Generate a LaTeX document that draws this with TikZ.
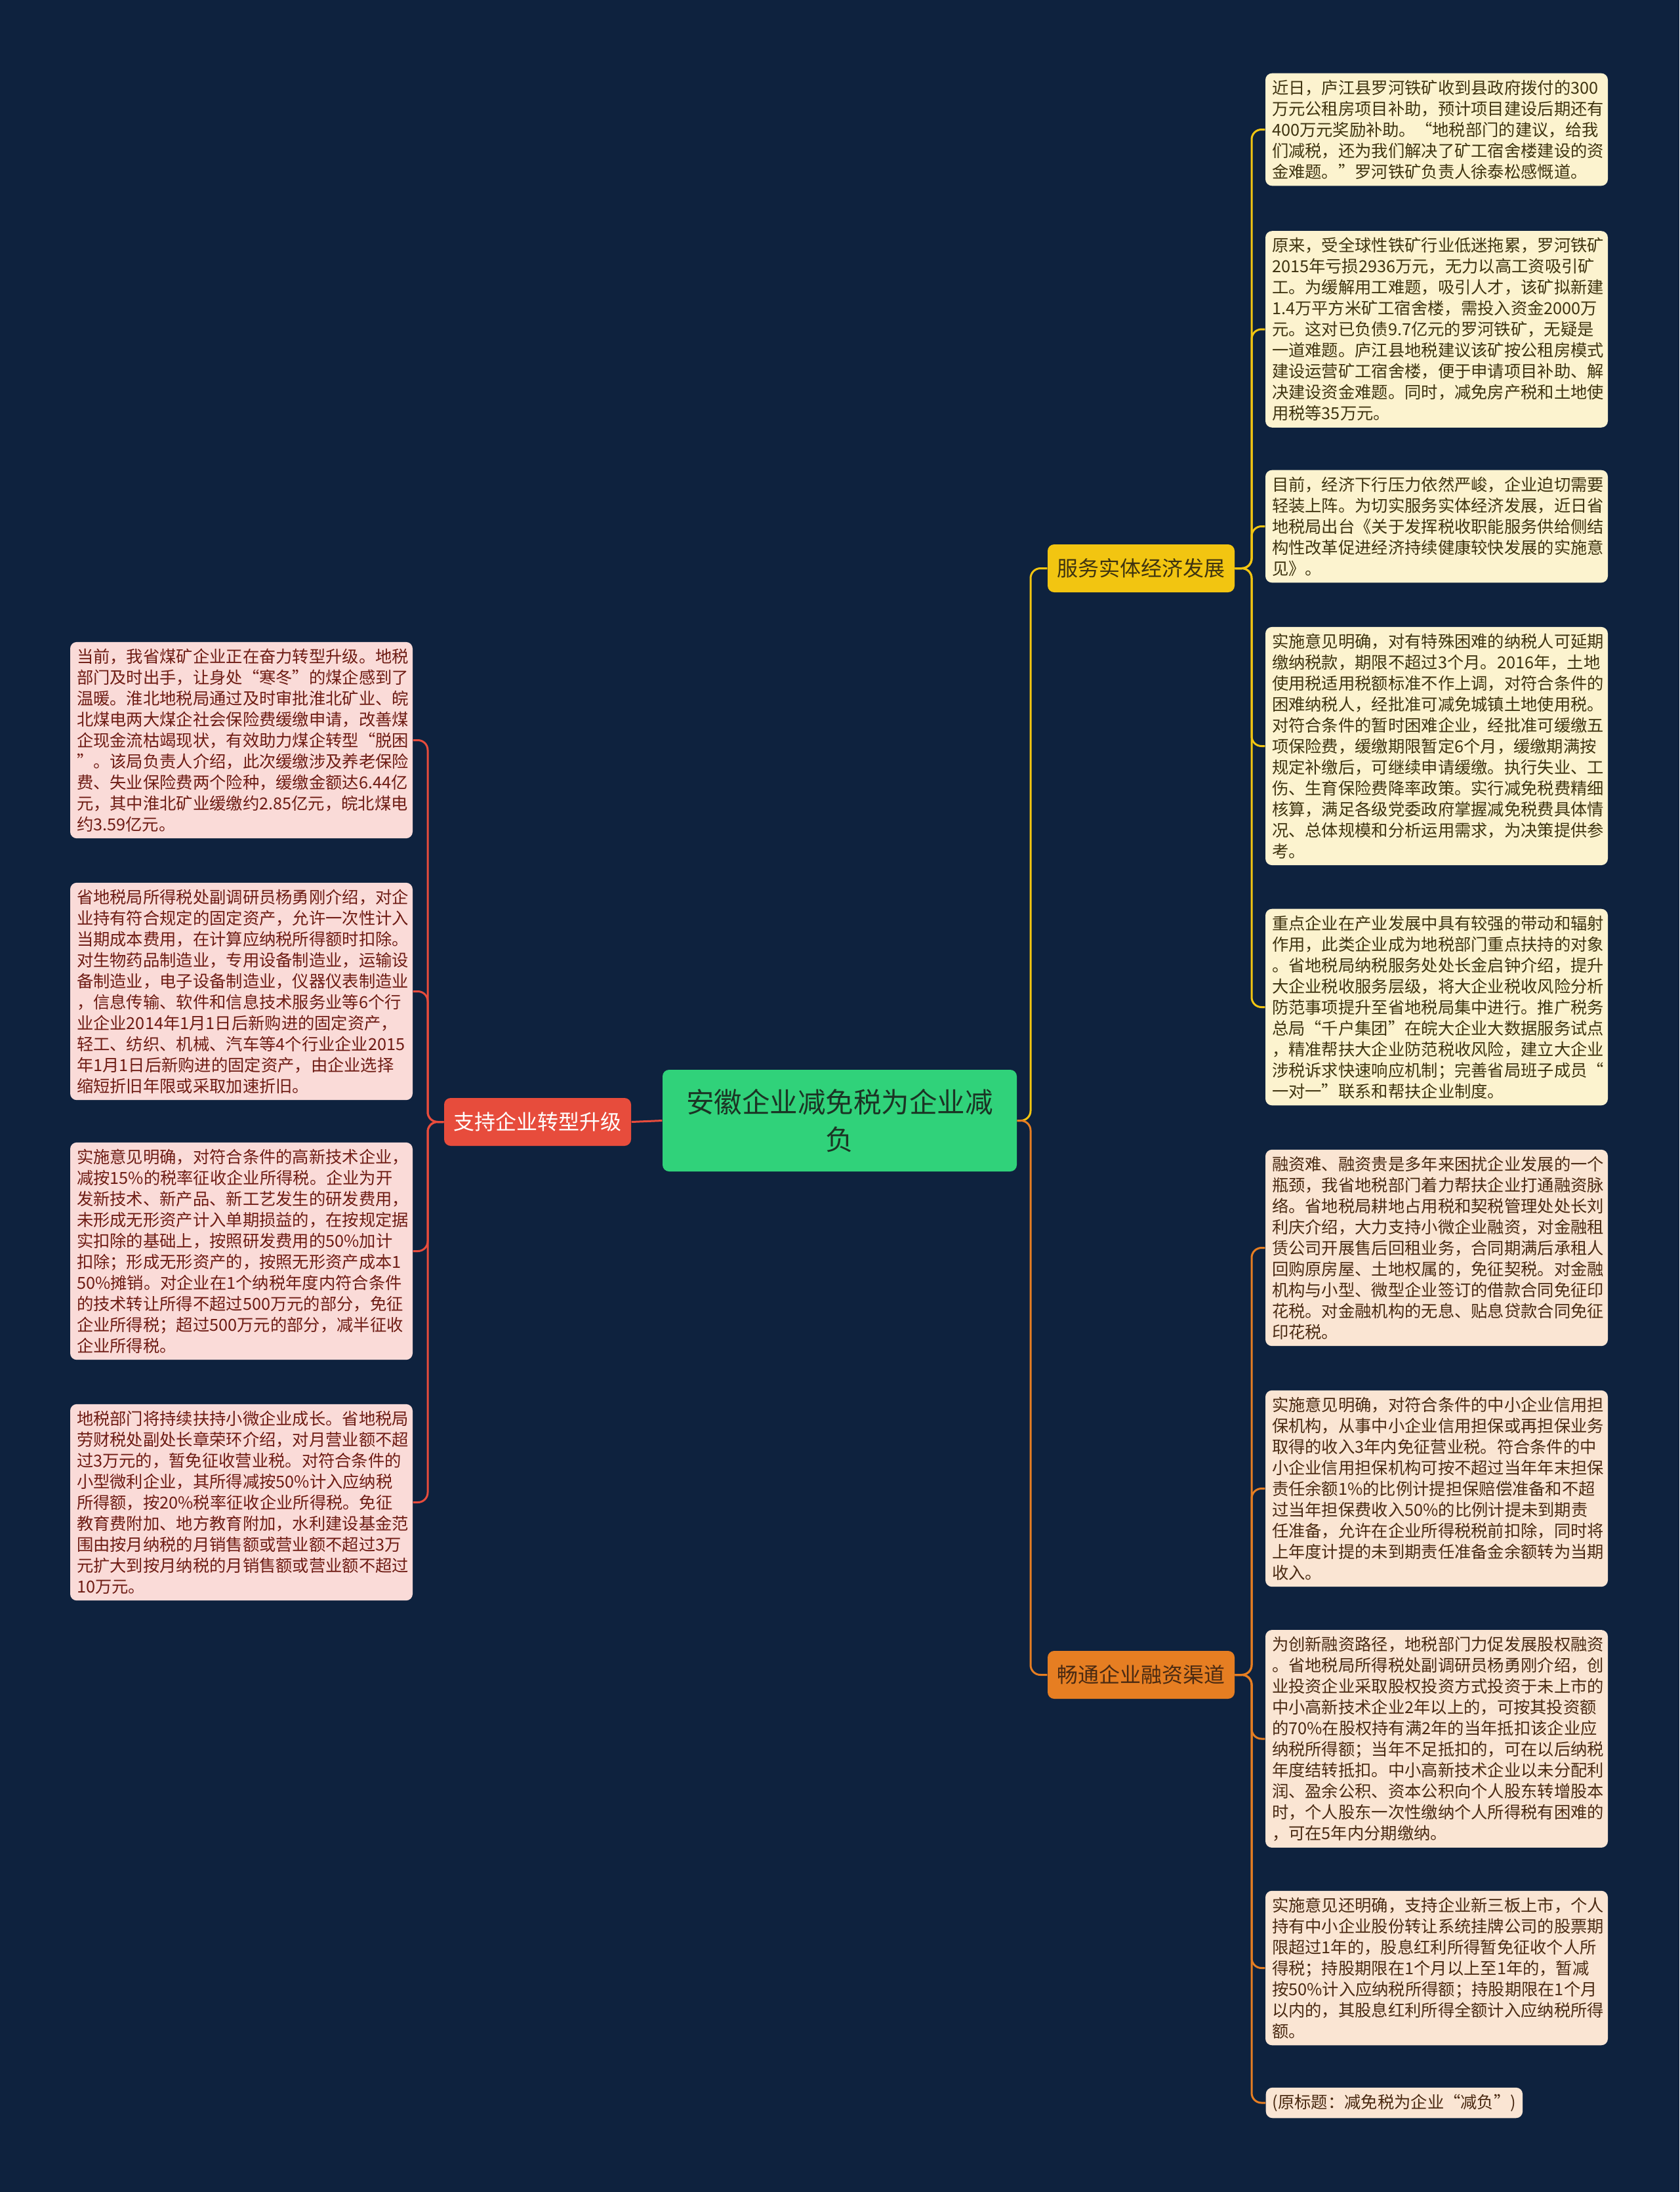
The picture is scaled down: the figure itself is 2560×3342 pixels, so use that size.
\documentclass[tikz,border=0pt]{standalone}
\usepackage{fontspec}
\setmainfont{Noto Sans CJK SC}
\usepackage{xcolor}
\usetikzlibrary{positioning,calc}

\definecolor{bgnavy}{HTML}{0E223E}
\definecolor{rootgreen}{HTML}{30D27A}
\definecolor{roottxt}{HTML}{1B3424}
\definecolor{upgred}{HTML}{E74C3C}
\definecolor{serveyel}{HTML}{F2C511}
\definecolor{finorange}{HTML}{E67E22}
\definecolor{ybg}{HTML}{FCF3CF}
\definecolor{ytxt}{HTML}{3F3410}
\definecolor{obg}{HTML}{FAE5D3}
\definecolor{otxt}{HTML}{4A2A12}
\definecolor{rbg}{HTML}{FADBD8}
\definecolor{rtxt}{HTML}{6E1C14}

\begin{document}
\begin{tikzpicture}[
    x=0.1mm, y=-0.1mm,
    leaf/.style={
        rounded corners=1mm,
        text width=50.2mm,
        inner xsep=1mm,
        inner ysep=1mm,
        align=left,
        font=\fontsize{7.2}{9.1}\selectfont
    },
    yleaf/.style={leaf, fill=ybg, text=ytxt},
    oleaf/.style={leaf, fill=obg, text=otxt},
    rleaf/.style={leaf, fill=rbg, text=rtxt},
    branch/.style={
        rounded corners=1mm,
        minimum width=28.5mm,
        minimum height=7.3mm,
        inner sep=0pt,
        font=\fontsize{9.1}{11}\selectfont
    },
    link/.style={line width=0.3mm, rounded corners=1.5mm}
]

\fill[bgnavy] (0,0) rectangle (2560,3342);
\useasboundingbox (0,0) rectangle (2560,3342);

% root and branches
\node[fill=rootgreen, text=roottxt, rounded corners=1mm,
      minimum width=54mm, minimum height=15.5mm, align=center,
      font=\fontsize{12.1}{16.2}\selectfont] (root) at (1280,1708.5)
{安徽企业减免税为企业减\\负};

\node[branch, fill=upgred, text=white] (upgrade) at (819.5,1710.5) {支持企业转型升级};
\node[branch, fill=serveyel, text=ytxt] (serve) at (1739.5,866.5) {服务实体经济发展};
\node[branch, fill=finorange, text=otxt] (finance) at (1739.5,2553.5) {畅通企业融资渠道};

% right side, upper group
\node[yleaf] (serve1) at (2190,197.5)
{近日，庐江县罗河铁矿收到县政府拨付的300\\
万元公租房项目补助，预计项目建设后期还有\\
400万元奖励补助。“地税部门的建议，给我\\
们减税，还为我们解决了矿工宿舍楼建设的资\\
金难题。”罗河铁矿负责人徐泰松感慨道。};

\node[yleaf] (serve2) at (2190,502)
{原来，受全球性铁矿行业低迷拖累，罗河铁矿\\
2015年亏损2936万元，无力以高工资吸引矿\\
工。为缓解用工难题，吸引人才，该矿拟新建\\
1.4万平方米矿工宿舍楼，需投入资金2000万\\
元。这对已负债9.7亿元的罗河铁矿，无疑是\\
一道难题。庐江县地税建议该矿按公租房模式\\
建设运营矿工宿舍楼，便于申请项目补助、解\\
决建设资金难题。同时，减免房产税和土地使\\
用税等35万元。};

\node[yleaf] (serve3) at (2190,802.5)
{目前，经济下行压力依然严峻，企业迫切需要\\
轻装上阵。为切实服务实体经济发展，近日省\\
地税局出台《关于发挥税收职能服务供给侧结\\
构性改革促进经济持续健康较快发展的实施意\\
见》。};

\node[yleaf] (serve4) at (2190,1137.5)
{实施意见明确，对有特殊困难的纳税人可延期\\
缴纳税款，期限不超过3个月。2016年，土地\\
使用税适用税额标准不作上调，对符合条件的\\
困难纳税人，经批准可减免城镇土地使用税。\\
对符合条件的暂时困难企业，经批准可缓缴五\\
项保险费，缓缴期限暂定6个月，缓缴期满按\\
规定补缴后，可继续申请缓缴。执行失业、工\\
伤、生育保险费降率政策。实行减免税费精细\\
核算，满足各级党委政府掌握减免税费具体情\\
况、总体规模和分析运用需求，为决策提供参\\
考。};

\node[yleaf] (serve5) at (2190,1535.5)
{重点企业在产业发展中具有较强的带动和辐射\\
作用，此类企业成为地税部门重点扶持的对象\\
。省地税局纳税服务处处长金启钟介绍，提升\\
大企业税收服务层级，将大企业税收风险分析\\
防范事项提升至省地税局集中进行。推广税务\\
总局“千户集团”在皖大企业大数据服务试点\\
，精准帮扶大企业防范税收风险，建立大企业\\
涉税诉求快速响应机制；完善省局班子成员“\\
一对一”联系和帮扶企业制度。};

% right side, lower group
\node[oleaf] (fin1) at (2190,1902.5)
{融资难、融资贵是多年来困扰企业发展的一个\\
瓶颈，我省地税部门着力帮扶企业打通融资脉\\
络。省地税局耕地占用税和契税管理处处长刘\\
利庆介绍，大力支持小微企业融资，对金融租\\
赁公司开展售后回租业务，合同期满后承租人\\
回购原房屋、土地权属的，免征契税。对金融\\
机构与小型、微型企业签订的借款合同免征印\\
花税。对金融机构的无息、贴息贷款合同免征\\
印花税。};

\node[oleaf] (fin2) at (2190,2269.5)
{实施意见明确，对符合条件的中小企业信用担\\
保机构，从事中小企业信用担保或再担保业务\\
取得的收入3年内免征营业税。符合条件的中\\
小企业信用担保机构可按不超过当年年末担保\\
责任余额1\%的比例计提担保赔偿准备和不超\\
过当年担保费收入50\%的比例计提未到期责\\
任准备，允许在企业所得税税前扣除，同时将\\
上年度计提的未到期责任准备金余额转为当期\\
收入。};

\node[oleaf] (fin3) at (2190,2651)
{为创新融资路径，地税部门力促发展股权融资\\
。省地税局所得税处副调研员杨勇刚介绍，创\\
业投资企业采取股权投资方式投资于未上市的\\
中小高新技术企业2年以上的，可按其投资额\\
的70\%在股权持有满2年的当年抵扣该企业应\\
纳税所得额；当年不足抵扣的，可在以后纳税\\
年度结转抵扣。中小高新技术企业以未分配利\\
润、盈余公积、资本公积向个人股东转增股本\\
时，个人股东一次性缴纳个人所得税有困难的\\
，可在5年内分期缴纳。};

\node[oleaf] (fin4) at (2190,3000.5)
{实施意见还明确，支持企业新三板上市，个人\\
持有中小企业股份转让系统挂牌公司的股票期\\
限超过1年的，股息红利所得暂免征收个人所\\
得税；持股期限在1个月以上至1年的，暂减\\
按50\%计入应纳税所得额；持股期限在1个月\\
以内的，其股息红利所得全额计入应纳税所得\\
额。};

\node[oleaf, text width=, anchor=west] (fin5) at (1929,3206)
{(原标题：减免税为企业“减负”)};

% left side
\node[rleaf] (upg1) at (368,1128.5)
{当前，我省煤矿企业正在奋力转型升级。地税\\
部门及时出手，让身处“寒冬”的煤企感到了\\
温暖。淮北地税局通过及时审批淮北矿业、皖\\
北煤电两大煤企社会保险费缓缴申请，改善煤\\
企现金流枯竭现状，有效助力煤企转型“脱困\\
”。该局负责人介绍，此次缓缴涉及养老保险\\
费、失业保险费两个险种，缓缴金额达6.44亿\\
元，其中淮北矿业缓缴约2.85亿元，皖北煤电\\
约3.59亿元。};

\node[rleaf] (upg2) at (368,1511.5)
{省地税局所得税处副调研员杨勇刚介绍，对企\\
业持有符合规定的固定资产，允许一次性计入\\
当期成本费用，在计算应纳税所得额时扣除。\\
对生物药品制造业，专用设备制造业，运输设\\
备制造业，电子设备制造业，仪器仪表制造业\\
，信息传输、软件和信息技术服务业等6个行\\
业企业2014年1月1日后新购进的固定资产，\\
轻工、纺织、机械、汽车等4个行业企业2015\\
年1月1日后新购进的固定资产，由企业选择\\
缩短折旧年限或采取加速折旧。};

\node[rleaf] (upg3) at (368,1907.5)
{实施意见明确，对符合条件的高新技术企业，\\
减按15\%的税率征收企业所得税。企业为开\\
发新技术、新产品、新工艺发生的研发费用，\\
未形成无形资产计入单期损益的，在按规定据\\
实扣除的基础上，按照研发费用的50\%加计\\
扣除；形成无形资产的，按照无形资产成本1\\
50\%摊销。对企业在1个纳税年度内符合条件\\
的技术转让所得不超过500万元的部分，免征\\
企业所得税；超过500万元的部分，减半征收\\
企业所得税。};

\node[rleaf] (upg4) at (368,2290.5)
{地税部门将持续扶持小微企业成长。省地税局\\
劳财税处副处长章荣环介绍，对月营业额不超\\
过3万元的，暂免征收营业税。对符合条件的\\
小型微利企业，其所得减按50\%计入应纳税\\
所得额，按20\%税率征收企业所得税。免征\\
教育费附加、地方教育附加，水利建设基金范\\
围由按月纳税的月销售额或营业额不超过3万\\
元扩大到按月纳税的月销售额或营业额不超过\\
10万元。};

% junctions
\coordinate (rootj) at (1571,1708.5);
\coordinate (upgj) at (652,1710.5);
\coordinate (servej) at (1908,866.5);
\coordinate (finj) at (1908,2553.5);

% links
\draw[link, serveyel] (root.east) -- (rootj) |- (serve.west);
\draw[link, finorange] (root.east) -- (rootj) |- (finance.west);
\draw[link, upgred] (root.west) -- (upgrade.east);

\foreach \leaf in {upg1,upg2,upg3,upg4}
    \draw[link, upgred] (upgrade.west) -- (upgj) |- (\leaf.east);
\foreach \leaf in {serve1,serve2,serve3,serve4,serve5}
    \draw[link, serveyel] (serve.east) -- (servej) |- (\leaf.west);
\foreach \leaf in {fin1,fin2,fin3,fin4,fin5}
    \draw[link, finorange] (finance.east) -- (finj) |- (\leaf.west);

\end{tikzpicture}
\end{document}
